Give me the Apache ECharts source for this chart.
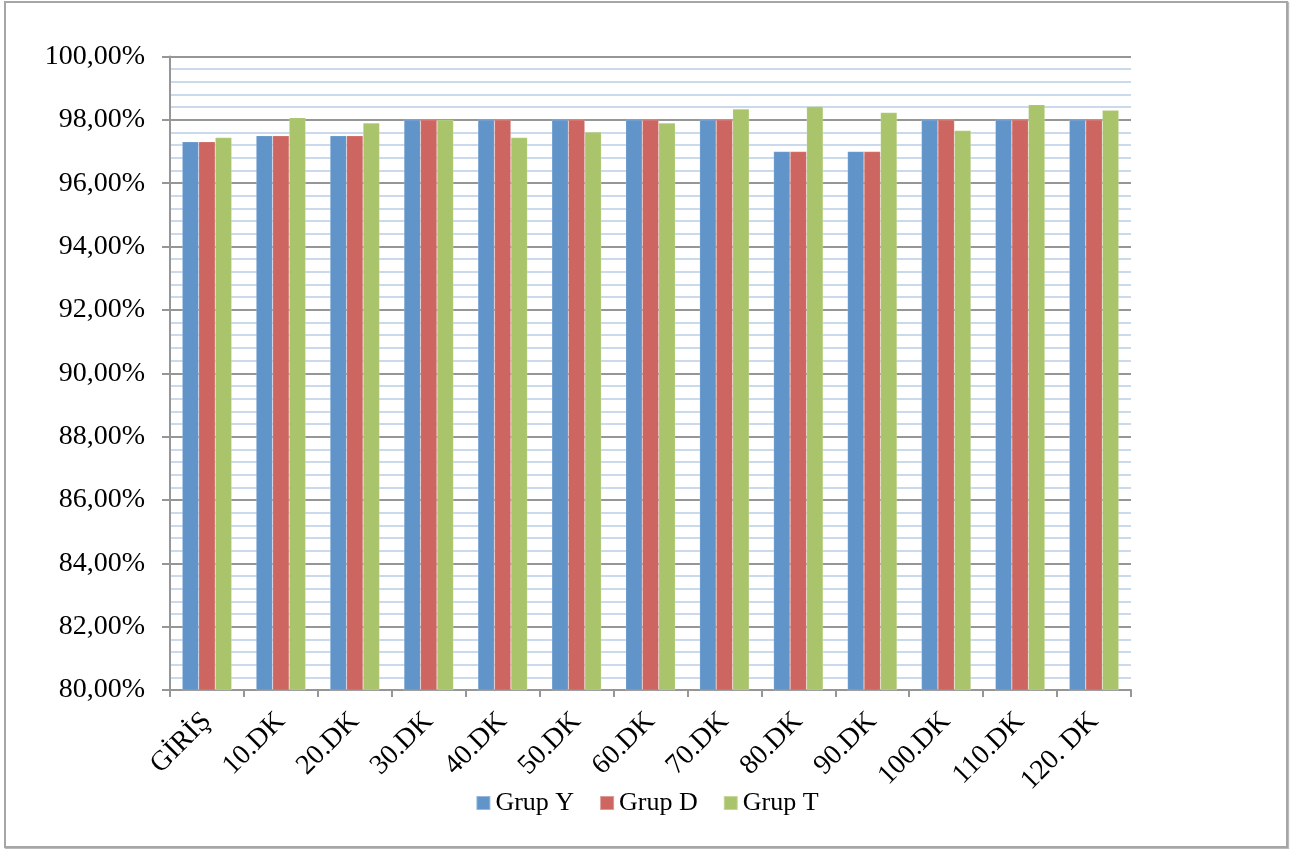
<!DOCTYPE html>
<html>
<head>
<meta charset="utf-8">
<script src="https://cdn.jsdelivr.net/npm/echarts@6/dist/echarts.min.js"></script>
<style>
  html, body { margin: 0; padding: 0; background: #fff; }
  #frame {
    position: absolute; left: 4px; top: 1px; width: 1280px; height: 843px;
    border: 2px solid #a6a6a6; box-shadow: 1px 1px 1px #bbb;
  }
  #chart { position: absolute; left: 0; top: 0; width: 1294px; height: 849px; }
</style>
</head>
<body>
<div id="frame"></div>
<div id="chart"></div>
<script>
// Time points of the measurement
const categories = ['GİRİŞ', '10.DK', '20.DK', '30.DK', '40.DK', '50.DK', '60.DK',
  '70.DK', '80.DK', '90.DK', '100.DK', '110.DK', '120. DK'];

// Percentage values per group
const grupY = [97.31, 97.50, 97.50, 98.00, 98.00, 98.00, 98.00, 98.00, 97.00, 97.00, 98.00, 98.00, 98.00];
const grupD = [97.31, 97.50, 97.50, 98.00, 98.00, 98.00, 98.00, 98.00, 97.00, 97.00, 98.00, 98.00, 98.00];
const grupT = [97.44, 98.07, 97.90, 98.00, 97.44, 97.62, 97.90, 98.34, 98.42, 98.23, 97.66, 98.48, 98.30];

const seriesNames = ['Grup Y', 'Grup D', 'Grup T'];
const seriesColors = ['#6194c9', '#cd6660', '#a9c46a'];

const FONT = '"Liberation Serif", "DejaVu Serif", serif';

const chart = echarts.init(document.getElementById('chart'), null, { renderer: 'canvas' });

const makeBar = (name, data, color) => ({
  name: name,
  type: 'bar',
  data: data,
  barGap: '0%',
  barCategoryGap: '33%',
  itemStyle: { color: color, borderColor: 'rgba(255,255,255,0.35)', borderWidth: 0.5 },
  emphasis: { disabled: true }
});

chart.setOption({
  animation: false,
  textStyle: { fontFamily: FONT, color: '#000' },
  grid: { left: 170, right: 163, top: 56.5, bottom: 159, containLabel: false },
  legend: {
    data: seriesNames,
    left: 'center',
    top: 785,
    itemWidth: 14,
    itemHeight: 14,
    itemGap: 25,
    icon: 'rect',
    textStyle: { fontFamily: FONT, fontSize: 26, color: '#000' }
  },
  xAxis: {
    type: 'category',
    data: categories,
    axisLine: { show: true, lineStyle: { color: '#969696', width: 2 } },
    axisTick: { show: true, length: 7, lineStyle: { color: '#969696', width: 2 } },
    axisLabel: {
      rotate: 45,
      margin: 27,
      fontFamily: FONT,
      fontSize: 28,
      color: '#000'
    }
  },
  yAxis: {
    type: 'value',
    min: 80,
    max: 100,
    interval: 2,
    axisLine: { show: true, lineStyle: { color: '#969696', width: 2 } },
    axisTick: { show: true, length: 8, lineStyle: { color: '#969696', width: 2 } },
    axisLabel: {
      margin: 25,
      fontFamily: FONT,
      fontSize: 28,
      color: '#000',
      formatter: v => v.toFixed(2).replace('.', ',') + '%'
    },
    splitLine: { show: true, lineStyle: { color: '#969696', width: 2 } },
    minorTick: { show: false, splitNumber: 5 },
    minorSplitLine: { show: true, lineStyle: { color: '#b9cde5', width: 1.5 } }
  },
  series: [
    makeBar(seriesNames[0], grupY, seriesColors[0]),
    makeBar(seriesNames[1], grupD, seriesColors[1]),
    makeBar(seriesNames[2], grupT, seriesColors[2])
  ]
});
</script>
</body>
</html>
